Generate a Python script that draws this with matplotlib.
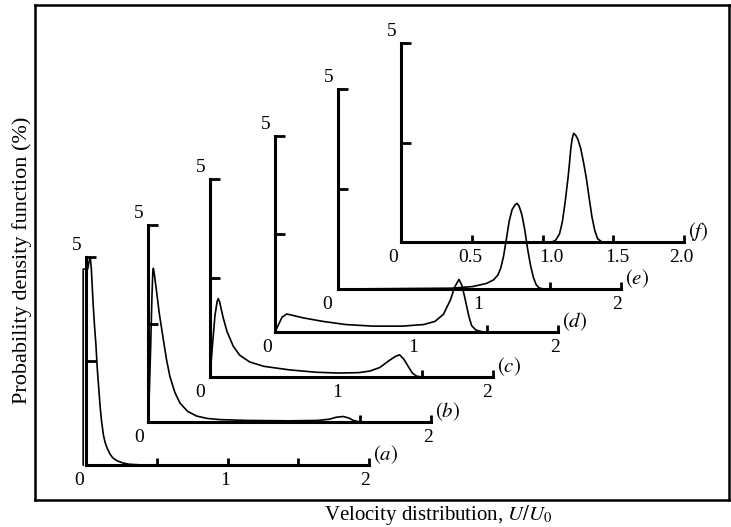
import matplotlib.pyplot as plt

plt.rcParams['font.family'] = 'Liberation Serif'
plt.rcParams['mathtext.fontset'] = 'stix'

# velocity U/U0 and probability density (%) for each station
u_a = [-0.02, -0.02, 0.012, 0.022, 0.03, 0.038, 0.05, 0.06, 0.07, 0.08, 0.09, 0.10, 0.11,
       0.123, 0.137, 0.15, 0.17, 0.19, 0.22, 0.26, 0.30, 0.40]
p_a = [0.0, 4.71, 4.71, 4.9, 5.0, 4.7, 3.9, 3.35, 2.9, 2.3, 1.85, 1.4, 1.05,
       0.72, 0.52, 0.40, 0.26, 0.17, 0.10, 0.05, 0.02, 0.0]

u_b = [0.0, 0.008, 0.018, 0.028, 0.034, 0.038, 0.045, 0.061, 0.08, 0.108, 0.13, 0.155, 0.19,
       0.226, 0.28, 0.344, 0.42, 0.51, 0.7, 1.0, 1.2, 1.28, 1.33, 1.38, 1.42, 1.45, 1.5]
p_b = [0.0, 0.6, 1.8, 3.2, 3.8, 3.9, 3.75, 3.3, 2.75, 2.1, 1.6, 1.15, 0.75,
       0.48, 0.27, 0.15, 0.09, 0.06, 0.04, 0.03, 0.04, 0.07, 0.12, 0.14, 0.10, 0.04, 0.0]

u_c = [0.0, 0.015, 0.035, 0.05, 0.058, 0.068, 0.08, 0.093, 0.12, 0.164, 0.21, 0.28, 0.38,
       0.56, 0.75, 0.91, 1.05, 1.13, 1.2, 1.26, 1.31, 1.34, 1.37, 1.40, 1.43, 1.46, 1.5]
p_c = [0.0, 0.7, 1.55, 1.9, 1.98, 1.9, 1.7, 1.5, 1.15, 0.78, 0.55, 0.38, 0.27,
       0.18, 0.12, 0.10, 0.11, 0.15, 0.24, 0.40, 0.52, 0.56, 0.45, 0.27, 0.10, 0.02, 0.0]

u_d = [0.0, 0.02, 0.05, 0.083, 0.13, 0.2, 0.34, 0.5, 0.69, 0.9, 1.05, 1.13, 1.19, 1.24,
       1.27, 1.30, 1.32, 1.34, 1.355, 1.37, 1.39, 1.42, 1.47]
p_d = [0.0, 0.15, 0.38, 0.46, 0.42, 0.36, 0.27, 0.19, 0.15, 0.15, 0.19, 0.27, 0.45, 0.82,
       1.15, 1.34, 1.2, 0.9, 0.65, 0.4, 0.16, 0.05, 0.0]

u_e = [0.0, 0.8, 0.95, 1.05, 1.10, 1.13, 1.15, 1.17, 1.19, 1.21, 1.23, 1.25, 1.265, 1.28,
       1.30, 1.32, 1.34, 1.36, 1.38, 1.40, 1.42, 1.45]
p_e = [0.0, 0.02, 0.06, 0.14, 0.23, 0.35, 0.52, 0.82, 1.25, 1.7, 1.98, 2.1, 2.14, 2.07,
       1.85, 1.48, 1.0, 0.6, 0.3, 0.11, 0.03, 0.0]

u_f = [0.0, 1.06, 1.09, 1.12, 1.14, 1.16, 1.18, 1.19, 1.20, 1.21, 1.22, 1.235, 1.25, 1.27,
       1.29, 1.31, 1.33, 1.35, 1.37, 1.39, 1.42]
p_f = [0.0, 0.0, 0.03, 0.2, 0.5, 1.0, 1.6, 1.95, 2.35, 2.6, 2.73, 2.68, 2.58, 2.35,
       2.0, 1.6, 1.1, 0.62, 0.28, 0.08, 0.0]

names = ['a', 'b', 'c', 'd', 'e', 'f']
curves = [(u_a, p_a), (u_b, p_b), (u_c, p_c), (u_d, p_d), (u_e, p_e), (u_f, p_f)]
x_ticks = [[0.5, 1, 1.5, 2], [1.5, 2], [1.5, 2], [1.5, 2], [1.5, 2], [0.5, 1, 1.5, 2]]
x_labels = [['0', '1', '2'], ['0', '2'], ['0', '1', '2'], ['0', '1', '2'], ['0', '1', '2'],
            ['0', '0.5', '1.0', '1.5', '2.0']]

# layout in pixels: origin of each small axes, its height, where its numbers sit
W, H = 731, 527
origins = [(86, 465), (148, 422), (210, 377), (275, 332), (338, 289), (401, 242)]
heights = [208, 197, 198, 196, 200, 199]
label_x = [[-0.05, 0.98, 1.97], [-0.064, 1.98], [-0.07, 0.9, 1.96], [-0.057, 0.975, 1.98],
           [-0.078, 0.99, 1.97], [-0.057, 0.49, 1.06, 1.53, 1.98]]
width = 283

fig = plt.figure(figsize=(W / 100, H / 100), dpi=100)

frame = fig.add_axes([35 / W, (H - 500) / H, (729 - 35) / W, (500 - 5) / H])
frame.set_xticks([])
frame.set_yticks([])
for s in frame.spines.values():
    s.set_linewidth(1.8)
frame.set_xlabel('Velocity distribution, $U/U_0$', fontsize=15)
frame.xaxis.set_label_coords((438 - 35) / 694, -0.006)
frame.set_ylabel('Probability density function (%)', fontsize=16)
frame.yaxis.set_label_coords(-0.004, (500 - 260) / 495)

for i, name in enumerate(names):
    x0, y0 = origins[i]
    ax = fig.add_axes([x0 / W, (H - y0) / H, width / W, heights[i] / H])
    ax.set_xlim(0, 2)
    ax.set_ylim(0, 5)
    ax.patch.set_visible(False)
    ax.spines['top'].set_visible(False)
    ax.spines['right'].set_visible(False)
    ax.spines['left'].set_linewidth(2.2)
    ax.spines['bottom'].set_linewidth(2.2)
    ax.set_xticks(x_ticks[i])
    ax.set_yticks([2.5, 5])
    ax.set_xticklabels([])
    ax.set_yticklabels([])
    ax.tick_params(axis='x', direction='in', length=5, width=2)
    ax.tick_params(axis='y', direction='in', length=7, width=2)

    u, p = curves[i]
    ax.plot(u, p, color='black', lw=1.2, clip_on=False, solid_joinstyle='round')

    for txt, xp in zip(x_labels[i], label_x[i]):
        ax.annotate(txt, xy=(xp, 0), xytext=(0, -11.5), textcoords='offset points',
                    ha='center', va='center', fontsize=14, annotation_clip=False)
    ax.annotate('5', xy=(0, 5), xytext=(-6.5, 8.5), textcoords='offset points',
                ha='center', va='center', fontsize=14, annotation_clip=False)
    ax.annotate('$(' + name + ')$', xy=(2.03, 0), xytext=(0, 7.5), textcoords='offset points',
                ha='left', va='center', fontsize=15, annotation_clip=False)

fig.savefig('out.png', dpi=100)
